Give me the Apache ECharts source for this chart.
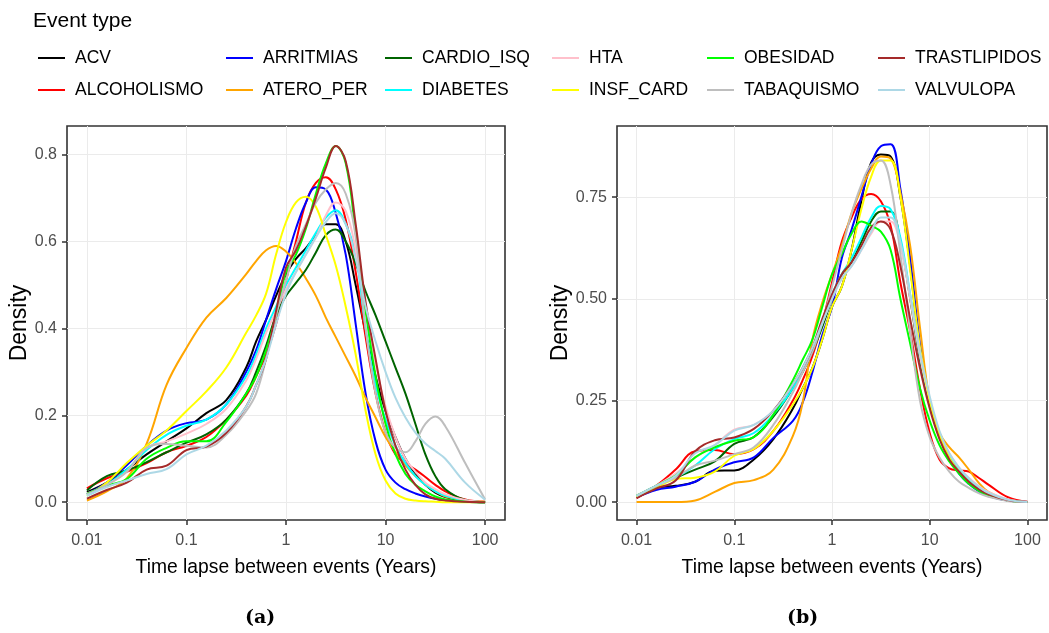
<!DOCTYPE html>
<html><head><meta charset="utf-8">
<script src="https://cdn.jsdelivr.net/npm/echarts@6/dist/echarts.min.js"></script>
<style>html,body{margin:0;padding:0;background:#fff}#c{width:1049px;height:633px}</style>
</head><body><div id="c"></div>
<script>
// log10 of time lapse (years)
const logYears = [-2,-1.8,-1.6,-1.4,-1.2,-1,-0.8,-0.6,-0.4,-0.3,-0.2,-0.1,0,0.1,0.2,0.3,0.4,0.5,0.6,0.7,0.8,0.9,1,1.1,1.2,1.3,1.4,1.5,1.6,1.8,2];
const xTickLogs = [-2,-1,0,1,2];
const xTickLabels = ['0.01','0.1','1','10','100'];
const yTicksA = [0,0.2,0.4,0.6,0.8];
const yTicksB = [0,0.25,0.5,0.75];
const eventTypes = ['ACV','ALCOHOLISMO','ARRITMIAS','ATERO_PER','CARDIO_ISQ','DIABETES','HTA','INSF_CARD','OBESIDAD','TABAQUISMO','TRASTLIPIDOS','VALVULOPA'];
const eventColors = ['#000000','#FF0000','#0000FF','#FFA500','#006400','#00FFFF','#FFC0CB','#FFFF00','#00FF00','#BEBEBE','#A52A2A','#ADD8E6'];
const legendRow1 = ['ACV','ARRITMIAS','CARDIO_ISQ','HTA','OBESIDAD','TRASTLIPIDOS'];
const legendRow2 = ['ALCOHOLISMO','ATERO_PER','DIABETES','INSF_CARD','TABAQUISMO','VALVULOPA'];

// Panel (a) densities
const a_ACV = [0.023,0.045,0.075,0.11,0.14,0.17,0.205,0.235,0.31,0.37,0.42,0.475,0.525,0.56,0.585,0.615,0.64,0.64,0.60,0.50,0.39,0.29,0.21,0.15,0.10,0.065,0.04,0.022,0.012,0.003,0];
const a_ALC = [0.032,0.055,0.07,0.09,0.115,0.13,0.15,0.19,0.245,0.29,0.34,0.41,0.51,0.60,0.69,0.735,0.748,0.72,0.65,0.53,0.38,0.25,0.16,0.11,0.09,0.075,0.058,0.04,0.025,0.006,0.001];
const a_ARR = [0.019,0.045,0.085,0.13,0.165,0.182,0.19,0.225,0.30,0.35,0.42,0.49,0.555,0.63,0.69,0.725,0.72,0.665,0.57,0.41,0.25,0.14,0.075,0.045,0.03,0.02,0.013,0.008,0.005,0.001,0];
const a_ATE = [0.004,0.025,0.055,0.135,0.27,0.355,0.425,0.47,0.525,0.555,0.58,0.59,0.577,0.55,0.515,0.475,0.425,0.38,0.335,0.29,0.24,0.195,0.15,0.115,0.085,0.06,0.04,0.025,0.013,0.004,0.001];
const a_CAR = [0.027,0.06,0.073,0.092,0.115,0.137,0.156,0.19,0.25,0.30,0.36,0.43,0.475,0.505,0.535,0.575,0.615,0.628,0.60,0.55,0.485,0.43,0.37,0.31,0.25,0.18,0.11,0.06,0.03,0.005,0];
const a_DIA = [0.015,0.04,0.075,0.12,0.155,0.176,0.19,0.225,0.29,0.34,0.40,0.45,0.50,0.54,0.58,0.62,0.655,0.672,0.64,0.57,0.40,0.27,0.19,0.13,0.09,0.06,0.04,0.025,0.015,0.004,0];
const a_HTA = [0.02,0.04,0.07,0.125,0.14,0.158,0.18,0.215,0.28,0.33,0.39,0.44,0.49,0.53,0.57,0.61,0.66,0.69,0.67,0.58,0.44,0.32,0.22,0.15,0.10,0.07,0.045,0.03,0.018,0.005,0];
const a_INS = [0.015,0.045,0.09,0.13,0.165,0.21,0.255,0.31,0.39,0.43,0.48,0.57,0.645,0.69,0.703,0.68,0.615,0.545,0.45,0.34,0.21,0.11,0.05,0.02,0.008,0.004,0.002,0.001,0,0,0];
const a_OBE = [0.019,0.038,0.053,0.10,0.125,0.14,0.14,0.185,0.25,0.29,0.35,0.43,0.53,0.57,0.63,0.71,0.78,0.82,0.78,0.62,0.44,0.29,0.18,0.11,0.065,0.04,0.025,0.013,0.006,0.001,0];
const a_TAB = [0.018,0.04,0.07,0.125,0.134,0.13,0.126,0.155,0.21,0.25,0.33,0.43,0.51,0.59,0.64,0.69,0.72,0.735,0.71,0.61,0.40,0.25,0.16,0.125,0.115,0.14,0.18,0.197,0.175,0.09,0.006];
const a_TRA = [0.008,0.028,0.045,0.075,0.084,0.12,0.128,0.16,0.22,0.27,0.33,0.44,0.54,0.58,0.635,0.70,0.77,0.82,0.785,0.64,0.46,0.33,0.21,0.13,0.075,0.04,0.018,0.008,0.004,0.001,0];
const a_VAL = [0.015,0.035,0.05,0.065,0.076,0.11,0.13,0.165,0.22,0.27,0.33,0.41,0.48,0.53,0.57,0.61,0.645,0.665,0.64,0.56,0.45,0.37,0.30,0.24,0.195,0.16,0.135,0.118,0.10,0.045,0.006];

// Panel (b) densities
const b_ACV = [0.012,0.035,0.04,0.05,0.077,0.078,0.105,0.155,0.23,0.28,0.33,0.40,0.48,0.53,0.62,0.74,0.835,0.855,0.85,0.75,0.58,0.37,0.24,0.16,0.11,0.075,0.05,0.03,0.017,0.004,0];
const b_ALC = [0.01,0.04,0.08,0.125,0.128,0.118,0.13,0.175,0.25,0.30,0.36,0.44,0.54,0.64,0.70,0.745,0.758,0.74,0.68,0.54,0.42,0.28,0.17,0.105,0.083,0.078,0.075,0.06,0.043,0.012,0.001];
const b_ARR = [0.012,0.03,0.038,0.05,0.08,0.098,0.11,0.158,0.20,0.245,0.32,0.41,0.48,0.60,0.67,0.75,0.83,0.875,0.88,0.77,0.60,0.39,0.25,0.165,0.11,0.07,0.045,0.027,0.015,0.004,0];
const b_ATE = [0,0,0,0.004,0.025,0.047,0.054,0.08,0.163,0.245,0.40,0.49,0.56,0.63,0.71,0.77,0.82,0.85,0.845,0.76,0.63,0.43,0.25,0.17,0.135,0.11,0.08,0.048,0.025,0.005,0];
const b_CAR = [0.012,0.04,0.06,0.08,0.1,0.143,0.16,0.21,0.28,0.32,0.37,0.43,0.50,0.56,0.59,0.64,0.69,0.715,0.715,0.64,0.50,0.35,0.24,0.16,0.11,0.075,0.05,0.03,0.017,0.004,0];
const b_DIA = [0.015,0.04,0.06,0.09,0.13,0.155,0.17,0.215,0.28,0.33,0.38,0.44,0.51,0.56,0.60,0.65,0.70,0.728,0.72,0.65,0.51,0.36,0.25,0.17,0.115,0.08,0.055,0.035,0.02,0.005,0];
const b_HTA = [0.012,0.04,0.07,0.11,0.14,0.178,0.19,0.225,0.29,0.33,0.38,0.44,0.50,0.55,0.58,0.62,0.66,0.69,0.69,0.63,0.50,0.36,0.25,0.17,0.12,0.085,0.06,0.04,0.025,0.007,0];
const b_INS = [0.012,0.035,0.057,0.06,0.075,0.114,0.131,0.175,0.24,0.28,0.33,0.40,0.48,0.53,0.62,0.72,0.80,0.84,0.84,0.75,0.57,0.38,0.25,0.165,0.11,0.075,0.05,0.03,0.017,0.004,0];
const b_OBE = [0.016,0.04,0.065,0.11,0.135,0.151,0.16,0.215,0.30,0.35,0.40,0.48,0.56,0.61,0.66,0.69,0.68,0.665,0.62,0.50,0.39,0.28,0.20,0.14,0.10,0.07,0.045,0.028,0.016,0.004,0];
const b_TAB = [0.016,0.04,0.06,0.09,0.102,0.118,0.135,0.19,0.27,0.32,0.37,0.44,0.53,0.62,0.71,0.78,0.83,0.84,0.78,0.61,0.42,0.25,0.16,0.11,0.075,0.05,0.035,0.022,0.013,0.003,0];
const b_TRA = [0.01,0.033,0.053,0.125,0.152,0.159,0.18,0.225,0.29,0.33,0.38,0.45,0.51,0.56,0.59,0.63,0.675,0.69,0.67,0.58,0.45,0.33,0.23,0.155,0.105,0.075,0.05,0.032,0.019,0.005,0];
const b_VAL = [0.015,0.04,0.065,0.12,0.14,0.176,0.19,0.225,0.29,0.33,0.38,0.44,0.50,0.55,0.58,0.62,0.665,0.70,0.70,0.64,0.51,0.37,0.26,0.175,0.12,0.085,0.058,0.038,0.023,0.006,0];

const panelA = [a_ACV,a_ALC,a_ARR,a_ATE,a_CAR,a_DIA,a_HTA,a_INS,a_OBE,a_TAB,a_TRA,a_VAL];
const panelB = [b_ACV,b_ALC,b_ARR,b_ATE,b_CAR,b_DIA,b_HTA,b_INS,b_OBE,b_TAB,b_TRA,b_VAL];

const FONT = 'Liberation Sans, Arial, Helvetica, sans-serif';
const chart = echarts.init(document.getElementById('c'), null, {renderer: 'canvas'});

function xAxisFor(gi) {
  return {
    type: 'value', gridIndex: gi, min: -2.2, max: 2.2, minInterval: 1, maxInterval: 1,
    name: 'Time lapse between events (Years)', nameLocation: 'middle', nameGap: 38,
    nameTextStyle: {fontFamily: FONT, fontSize: 19.3, color: '#000'},
    axisLine: {show: false, onZero: false},
    axisTick: {show: true, length: 5, lineStyle: {color: '#333333', width: 1.5}, customValues: xTickLogs},
    axisLabel: {fontFamily: FONT, fontSize: 16, color: '#4D4D4D', margin: 13, customValues: xTickLogs,
      formatter: v => { const k = xTickLogs.findIndex(t => Math.abs(t - v) < 1e-6); return k >= 0 ? xTickLabels[k] : ''; }},
    splitLine: {show: true, lineStyle: {color: '#EBEBEB', width: 1}}
  };
}
function yAxisFor(gi, min, max, step, ticks, dec, gap) {
  return {
    type: 'value', gridIndex: gi, min: min, max: max, minInterval: step, maxInterval: step,
    name: 'Density', nameLocation: 'middle', nameGap: gap, nameRotate: 90,
    nameTextStyle: {fontFamily: FONT, fontSize: 23, color: '#000'},
    axisLine: {show: false, onZero: false},
    axisTick: {show: true, length: 5, lineStyle: {color: '#333333', width: 1.5}, customValues: ticks},
    axisLabel: {fontFamily: FONT, fontSize: 16, color: '#4D4D4D', margin: 10, customValues: ticks,
      formatter: v => { const k = ticks.findIndex(t => Math.abs(t - v) < 1e-6); return k >= 0 ? ticks[k].toFixed(dec) : ''; }},
    splitLine: {show: true, lineStyle: {color: '#EBEBEB', width: 1}}
  };
}

const series = [];
[panelA, panelB].forEach((panel, gi) => {
  panel.forEach((vals, k) => {
    series.push({
      type: 'line', name: eventTypes[k], xAxisIndex: gi, yAxisIndex: gi,
      data: logYears.map((x, i) => [x, vals[i]]),
      showSymbol: false, smooth: 0.4, silent: true,
      lineStyle: {color: eventColors[k], width: 2},
      itemStyle: {color: eventColors[k]},
      emphasis: {disabled: true}
    });
  });
});

// legend: 6 columns, 2 rows (filled by row)
const legendCols = [33, 221, 380, 547, 702, 873];
const legends = legendCols.map((left, c) => ({
  orient: 'vertical', left: left, top: 44, itemGap: 14, itemWidth: 27, itemHeight: 2,
  icon: 'rect', selectedMode: false,
  data: [legendRow1[c], legendRow2[c]],
  textStyle: {fontFamily: FONT, fontSize: 17.5, color: '#000', padding: [0, 0, 0, 5]}
}));

chart.setOption({
  animation: false,
  backgroundColor: '#ffffff',
  title: {text: 'Event type', left: 28, top: 6, textStyle: {fontFamily: FONT, fontSize: 21, fontWeight: 'normal', color: '#000'}},
  legend: legends,
  grid: [
    {left: 67, top: 126, width: 438, height: 394, show: true, borderColor: '#333333', borderWidth: 1.6, backgroundColor: 'transparent', containLabel: false},
    {left: 617, top: 126, width: 430, height: 394, show: true, borderColor: '#333333', borderWidth: 1.6, backgroundColor: 'transparent', containLabel: false}
  ],
  xAxis: [xAxisFor(0), xAxisFor(1)],
  yAxis: [yAxisFor(0, -0.041, 0.866, 0.2, yTicksA, 1, 30), yAxisFor(1, -0.044, 0.925, 0.25, yTicksB, 2, 34)],
  series: series,
  graphic: [
    {type: 'text', left: 245, top: 609, style: {text: '(a)', font: 'bold 19px "DejaVu Serif", serif', fill: '#000'}},
    {type: 'text', left: 787, top: 609, style: {text: '(b)', font: 'bold 19px "DejaVu Serif", serif', fill: '#000'}}
  ]
});
</script></body></html>
